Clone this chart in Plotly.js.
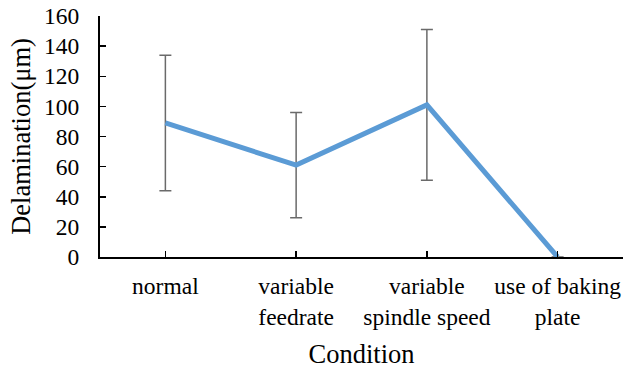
<!DOCTYPE html>
<html><head><meta charset="utf-8">
<script src="https://cdn.plot.ly/plotly-3.0.1.min.js"></script>
<style>html,body{margin:0;padding:0;background:#fff;}</style>
</head><body><div id="chart" style="width:627px;height:369px;"></div>
<script>
const categories = ["normal", "variable<br>feedrate", "variable<br>spindle speed", "use of baking<br>plate"];
const positions = [0, 1, 2, 3];
const delamination = [89, 61, 101, 0];
const errors = [45, 35, 50, 0];
const yTicks = [0, 20, 40, 60, 80, 100, 120, 140, 160];

const fam = "Liberation Serif";
const tickFont = {family: fam, size: 23.5, color: "#000"};
const titleFont = {family: fam, size: 26.5, color: "#000"};

const trace = {
  x: positions, y: delamination, type: "scatter", mode: "lines",
  line: {color: "#5B9BD5", width: 5},
  error_y: {type: "data", array: errors, visible: true, color: "#6a6a6a", thickness: 1.5, width: 6},
  showlegend: false, hoverinfo: "skip"
};
const tickTrace = {x: [0], y: [0], xaxis: "x2", yaxis: "y", mode: "markers", marker: {opacity: 0}, showlegend: false, hoverinfo: "skip"};

const layout = {
  width: 627, height: 369,
  margin: {l: 100, r: 4, t: 16, b: 112},
  paper_bgcolor: "#fff", plot_bgcolor: "#fff",
  font: {family: fam, size: 23.5, color: "#000"},
  xaxis: {
    range: [-0.5, 3.5], tickvals: positions, ticktext: categories,
    showline: true, linecolor: "#000", linewidth: 2, ticks: "", showgrid: false, zeroline: false,
    tickfont: tickFont, ticklabelstandoff: 7,
    title: {text: "Condition", font: titleFont, standoff: 16}
  },
  xaxis2: {
    overlaying: "x", anchor: "y", side: "bottom", range: [-0.5, 3.5], tickvals: [0, 1, 2, 3, 3.5], showticklabels: false,
    ticks: "inside", ticklen: 6, tickwidth: 1.5, tickcolor: "#000", showgrid: false, zeroline: false, showline: false
  },
  yaxis: {
    range: [0, 160], tickvals: yTicks, showline: true, linecolor: "#000", linewidth: 2,
    ticks: "inside", ticklen: 6, tickwidth: 1.5, tickcolor: "#000", showgrid: false, zeroline: false,
    tickfont: tickFont, ticklabelstandoff: 14,
    title: {text: "Delamination(μm)", font: titleFont, standoff: 6}
  }
};
Plotly.newPlot("chart", [trace, tickTrace], layout, {staticPlot: true, displayModeBar: false});
</script></body></html>
